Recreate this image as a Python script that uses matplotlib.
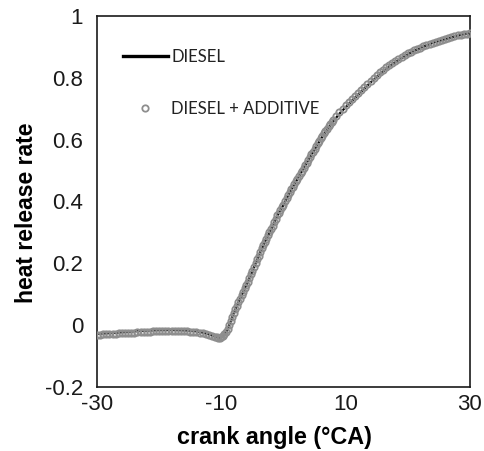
import matplotlib
matplotlib.use("Agg")
import matplotlib.pyplot as plt
import numpy as np

plt.rcParams['font.family'] = ['Liberation Sans', 'DejaVu Sans']
plt.rcParams['axes.unicode_minus'] = False

# DIESEL + ADDITIVE
add_angle = [
    -30, -29.5, -29, -28.5, -28, -27.5, -27, -26.5, -26, -25.5,
    -25, -24.5, -24, -23.5, -23, -22.5, -22, -21.5, -21, -20.5,
    -20, -19.5, -19, -18.5, -18, -17.5, -17, -16.5, -16, -15.5,
    -15, -14.5, -14, -13.5, -13, -12.5, -12, -11.5,
    -11, -10.75, -10.5, -10.25, -10, -9.75, -9.5, -9.25, -9, -8.75,
    -8.5, -8.25, -8, -7.75, -7.5, -7.25, -7, -6.75, -6.5, -6.25,
    -6, -5.75, -5.5, -5.25, -5, -4.75, -4.5, -4.25, -4, -3.75,
    -3.5, -3.25, -3, -2.75, -2.5, -2.25, -2, -1.75, -1.5, -1.25,
    -1, -0.75, -0.5, -0.25, 0, 0.25, 0.5, 0.75, 1, 1.25,
    1.5, 1.75, 2, 2.25, 2.5, 2.75, 3, 3.25, 3.5, 3.75,
    4, 4.25, 4.5, 4.75, 5, 5.25, 5.5, 5.75, 6, 6.25,
    6.5, 6.75, 7, 7.25, 7.5, 7.75, 8,
    8.5, 9, 9.5, 10, 10.5, 11, 11.5, 12, 12.5, 13,
    13.5, 14, 14.5, 15, 15.5, 16, 16.5, 17, 17.5, 18,
    18.5, 19, 19.5, 20, 20.5, 21, 21.5, 22, 22.5, 23,
    23.5, 24, 24.5, 25, 25.5, 26, 26.5, 27, 27.5, 28,
    28.5, 29, 29.5, 30,
]
add_hrr = [
    -0.032, -0.031, -0.030, -0.030, -0.029, -0.028, -0.028, -0.027, -0.026, -0.026,
    -0.025, -0.024, -0.024, -0.023, -0.022, -0.022, -0.021, -0.021, -0.020, -0.020,
    -0.020, -0.019, -0.019, -0.019, -0.019, -0.019, -0.019, -0.019, -0.020, -0.020,
    -0.021, -0.022, -0.023, -0.025, -0.027, -0.029, -0.032, -0.035,
    -0.038, -0.040, -0.042, -0.042, -0.040, -0.036, -0.030, -0.022, -0.013, -0.001,
    0.012, 0.026, 0.040, 0.051, 0.062, 0.074, 0.085, 0.096, 0.108, 0.119,
    0.130, 0.141, 0.152, 0.164, 0.175, 0.188, 0.200, 0.213, 0.225, 0.236,
    0.248, 0.259, 0.270, 0.280, 0.290, 0.300, 0.310, 0.321, 0.333, 0.344,
    0.355, 0.364, 0.372, 0.381, 0.390, 0.400, 0.410, 0.420, 0.430, 0.439,
    0.448, 0.456, 0.465, 0.474, 0.483, 0.491, 0.500, 0.509, 0.518, 0.526,
    0.535, 0.544, 0.553, 0.561, 0.570, 0.579, 0.588, 0.596, 0.605, 0.613,
    0.621, 0.628, 0.636, 0.643, 0.650, 0.657, 0.664,
    0.677, 0.690, 0.700, 0.711, 0.721, 0.731, 0.741, 0.751, 0.761, 0.771,
    0.781, 0.791, 0.800, 0.809, 0.818, 0.826, 0.834, 0.842, 0.849, 0.856,
    0.862, 0.868, 0.874, 0.879, 0.884, 0.889, 0.894, 0.898, 0.902, 0.906,
    0.910, 0.914, 0.917, 0.920, 0.923, 0.926, 0.929, 0.932, 0.934, 0.937,
    0.939, 0.941, 0.943, 0.945,
]

# DIESEL
diesel_angle = [
    -30, -29, -28, -27, -26, -25, -24, -23, -22, -21,
    -20, -19, -18, -17, -16, -15, -14, -13, -12, -11,
    -10.5, -10, -9.5, -9, -8.5, -8, -7, -6, -5, -4,
    -3, -2, -1, 0, 1, 2, 3, 4, 5, 6,
    7, 8, 9, 10, 11, 12, 13, 14, 15, 16,
    17, 18, 19, 20, 21, 22, 23, 24, 25, 26,
    27, 28, 29, 30,
]
diesel_hrr = [
    -0.028, -0.027, -0.026, -0.025, -0.023, -0.022, -0.020, -0.019, -0.018, -0.017,
    -0.016, -0.016, -0.016, -0.016, -0.017, -0.018, -0.020, -0.024, -0.030, -0.037,
    -0.041, -0.040, -0.031, -0.014, 0.011, 0.039, 0.084, 0.129, 0.174, 0.224,
    0.269, 0.309, 0.354, 0.389, 0.429, 0.464, 0.499, 0.534, 0.568, 0.602,
    0.632, 0.659, 0.684, 0.705, 0.725, 0.745, 0.765, 0.785, 0.803, 0.820,
    0.836, 0.851, 0.864, 0.876, 0.887, 0.896, 0.905, 0.913, 0.919, 0.925,
    0.931, 0.936, 0.941, 0.945,
]

x_ticks = [-30, -10, 10, 30]
y_ticks = [-0.2, 0, 0.2, 0.4, 0.6, 0.8, 1]
y_labels = ['-0.2', '0', '0.2', '0.4', '0.6', '0.8', '1']

fig = plt.figure(figsize=(4.84, 4.51), dpi=100)
ax = fig.add_axes([0.2004, 0.142, 0.7706, 0.8225])

ax.plot(diesel_angle, diesel_hrr, color='black', lw=1.6, label='DIESEL', zorder=2)
ax.plot(add_angle, add_hrr, ls='none', marker='o', ms=4.6, mfc='none',
        mec='#8e8e8e', mew=1.3, label='DIESEL + ADDITIVE', zorder=3)

ax.set_xlim(-30, 30)
ax.set_ylim(-0.2, 1)
ax.set_xticks(x_ticks)
ax.set_yticks(y_ticks)
ax.set_yticklabels(y_labels)
ax.tick_params(length=0, labelsize=16, colors='#1a1a1a')
ax.tick_params(axis='x', pad=5)
ax.tick_params(axis='y', pad=10)
for s in ax.spines.values():
    s.set_linewidth(1.2)
    s.set_color('#1a1a1a')

ax.set_xlabel('crank angle (°CA)', fontsize=16.8, fontweight='bold')
ax.set_ylabel('heat release rate', fontsize=16.5, fontweight='bold')
ax.xaxis.set_label_coords(0.4745, -0.106)
ax.yaxis.set_label_coords(-0.158, 0.469)

leg = ax.legend(loc='upper left', bbox_to_anchor=(0.029, 0.952), frameon=False,
                handlelength=2.7, handletextpad=0.2, labelspacing=2.15,
                prop={'family': 'Lato', 'size': 12})
leg.get_lines()[0].set_linewidth(2.4)
for t in leg.get_texts():
    t.set_color('#222222')

fig.savefig('out.png', dpi=100)
